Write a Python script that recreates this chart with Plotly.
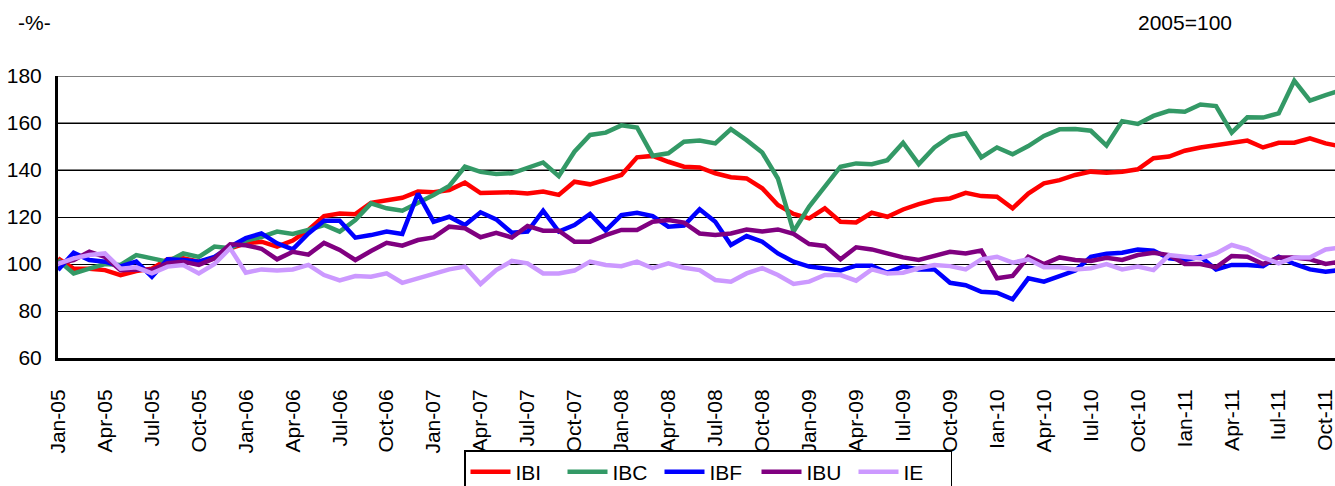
import plotly.graph_objects as go

months = []
for yr in range(5, 12):
    for mo in ["Jan", "Feb", "Mar", "Apr", "May", "Jun", "Jul", "Aug", "Sep", "Oct", "Nov", "Dec"]:
        months.append(f"{mo}-{yr:02d}")
months = months[:83]  # Jan-05 .. Nov-11

tick_labels = ["Jan-05", "Apr-05", "Jul-05", "Oct-05", "Jan-06", "Apr-06", "Jul-06", "Oct-06",
               "Jan-07", "Apr-07", "Jul-07", "Oct-07", "Jan-08", "Apr-08", "Jul-08", "Oct-08",
               "Jan-09", "Apr-09", "Iul-09", "Oct-09", "Ian-10", "Apr-10", "Iul-10", "Oct-10",
               "Ian-11", "Apr-11", "Iul-11", "Oct-11"]

IBI = [102.4, 98, 98, 97.4, 95.3, 97, 98, 102, 102.4, 101, 102.4, 106.7, 108.8, 109.5, 107.4, 110,
       114.5, 120.4, 121.5, 121.2, 126, 127.2, 128.2, 130.8, 130.5, 131.5, 134.6, 130.2, 130.3, 130.5,
       130, 130.8, 129.4, 135, 133.9, 135.7, 137.9, 145.4, 146, 143.5, 141.4, 141.1, 138.6, 136.9,
       136.4, 132.2, 125.1, 121.3, 119.4, 123.7, 118, 117.7, 121.8, 120.1, 123.2, 125.5, 127.2, 127.9,
       130.3, 128.9, 128.6, 123.7, 130, 134.3, 135.7, 137.9, 139.3, 138.8, 139.3, 140.3, 145, 145.7,
       148.2, 149.6, 150.6, 151.3, 152.5, 149.6, 151.6, 151.6, 153.5, 151.3, 150]
IBC = [101.7, 96, 98, 100, 99.6, 103.8, 102.4, 101, 104.5, 103, 107.4, 106.7, 110, 111.5, 113.8, 112.8,
       114.5, 116.6, 113.8, 118.7, 125.8, 123.7, 122.7, 125.8, 129.4, 133.2, 141.4, 139.2, 138.3, 138.6,
       141.1, 143.2, 137.4, 147.8, 154.9, 155.9, 159, 158.1, 146.1, 147.1, 152, 152.5, 151.3, 157.4,
       152.7, 147.4, 136.4, 113.8, 124.4, 132.9, 141.4, 142.8, 142.5, 144.2, 151.6, 142.5, 149.6, 154.2,
       155.6, 145.4, 149.6, 146.7, 150.2, 154.5, 157.3, 157.4, 156.7, 150.4, 160.8, 159.6, 163, 165.2,
       164.8, 167.9, 167.2, 155.9, 162.4, 162.3, 164.1, 178, 169.5, 171.9, 174]
IBF = [97.4, 104.8, 101.7, 101, 99, 101, 94.6, 102, 101.7, 101, 103, 107.4, 111, 113, 108.8, 106.2,
       113, 118.4, 118.4, 111.2, 112.3, 113.8, 112.8, 130, 118, 120.1, 116.6, 122, 119, 113.3,
       113.8, 122.7, 113.8, 116.6, 121.3, 114.2, 120.8, 121.8, 120.4, 115.9, 116.4, 123.3, 118, 108.1,
       111.9, 109.5, 104.5, 101, 98.9, 98.2, 97.2, 99.3, 99.3, 96.3, 98.9, 97.7, 97.7, 92,
       91, 88.2, 87.8, 85, 93.9, 92.5, 94.6, 97.2, 103.1, 104.4, 104.8, 106.2, 105.7, 102.4,
       101.7, 103.1, 97.7, 99.6, 99.6, 99.1, 103.1, 100, 97.7, 96.7, 97.5]
IBU = [100.3, 101.7, 105.2, 103, 97.4, 97.7, 97.4, 100.3, 101, 99.6, 102.4, 108.4, 108, 106.5, 102, 105.2,
       104, 109, 106, 101.7, 105.5, 109, 107.8, 110.2, 111.3, 115.9, 115.2, 111.4, 113.3, 111.3,
       116.2, 114.2, 114.2, 109.5, 109.5, 112.3, 114.5, 114.5, 118, 118.7, 117.6, 113, 112.3, 113,
       114.7, 113.8, 114.7, 112.8, 108.5, 107.7, 102, 107.1, 106.2, 104.6, 102.8, 101.7, 103.4, 105.2,
       104.5, 105.7, 93.9, 94.9, 103.1, 100, 102.8, 101.7, 101.3, 102.6, 101.7, 103.8, 104.8, 103.8,
       100, 100, 98.6, 103.4, 103.1, 100, 102.8, 102.8, 102, 100, 101]
IE = [100, 102.4, 103.8, 104.5, 98, 98.6, 96, 98.9, 99.6, 96, 100, 106.7, 96.3, 97.7, 97.2, 97.7,
      99.6, 95.3, 93, 94.9, 94.6, 96, 92, 93.9, 96, 97.7, 98.9, 91.5, 97.4, 101.3,
      100.3, 96, 96, 97.2, 101, 99.6, 99.1, 101, 98.2, 100.3, 98.4, 97.4, 93.2, 92.5,
      96, 98.2, 95.3, 91.5, 92.5, 95.3, 95.3, 92.9, 97.7, 96, 96.3, 98.2, 99.6, 99.1,
      97.7, 102, 103.1, 100.6, 102, 98.6, 98.6, 97.7, 98.2, 100, 97.7, 98.9, 97.4, 103.8,
      103.1, 102.4, 104.5, 108.1, 106.2, 102.8, 100.3, 102.8, 102.8, 106.2, 107]

series = [("IBI", IBI, "#FF0000"), ("IBC", IBC, "#339966"), ("IBF", IBF, "#0000FF"),
          ("IBU", IBU, "#800080"), ("IE", IE, "#CC99FF")]

FONT = "Liberation Sans, Arial, sans-serif"
W, H = 1335, 486
ML, MR, MT, MB = 58, 0, 76, 128
pw, ph = W - ML - MR, H - MT - MB

fig = go.Figure()
for name, vals, col in series:
    fig.add_trace(go.Scatter(x=months, y=vals, mode="lines", name=name,
                             line=dict(color=col, width=4.5)))

# gray upper gridlines (as in original)
for gv in [140, 160, 180]:
    fig.add_shape(type="line", xref="paper", yref="y", x0=0, x1=1, y0=gv, y1=gv,
                  line=dict(color="#808080", width=2), layer="below")

fig.update_layout(
    width=W, height=H,
    margin=dict(l=ML, r=MR, t=MT, b=MB),
    paper_bgcolor="white", plot_bgcolor="white",
    font=dict(family=FONT, size=21, color="black"),
    showlegend=True,
    legend=dict(orientation="h", xref="paper", x=(464 - ML) / pw, xanchor="left",
                yref="container", y=1 - 450 / H, yanchor="top",
                bordercolor="black", borderwidth=1.5, bgcolor="white",
                font=dict(size=21), itemwidth=40, entrywidth=42, tracegroupgap=0),
    annotations=[
        dict(text="-%-", xref="paper", yref="paper", x=(34 - ML) / pw, y=(H - MB - 22) / ph,
             xanchor="center", yanchor="middle", showarrow=False),
        dict(text="2005=100", xref="paper", yref="paper", x=(1185 - ML) / pw, y=(H - MB - 22) / ph,
             xanchor="center", yanchor="middle", showarrow=False),
    ],
)

fig.update_xaxes(type="category", range=[0, 81.6],
                 tickmode="array", tickvals=months[::3], ticktext=tick_labels,
                 tickangle=-90, showgrid=False, showline=True, linecolor="black",
                 linewidth=3, ticks="outside", ticklen=20, tickcolor="rgba(0,0,0,0)",
                 automargin=False, tickfont=dict(size=21))
fig.update_yaxes(range=[60, 180], tickvals=[60, 80, 100, 120, 140, 160, 180],
                 showgrid=True, gridcolor="black", gridwidth=1,
                 showline=True, linecolor="black", linewidth=3, ticks="",
                 ticklabelstandoff=9, zeroline=False, automargin=False,
                 tickfont=dict(size=21))

fig.write_html("out.html", config={"displayModeBar": False},
               post_script="document.body.style.margin='0';document.body.style.overflow='hidden';")
